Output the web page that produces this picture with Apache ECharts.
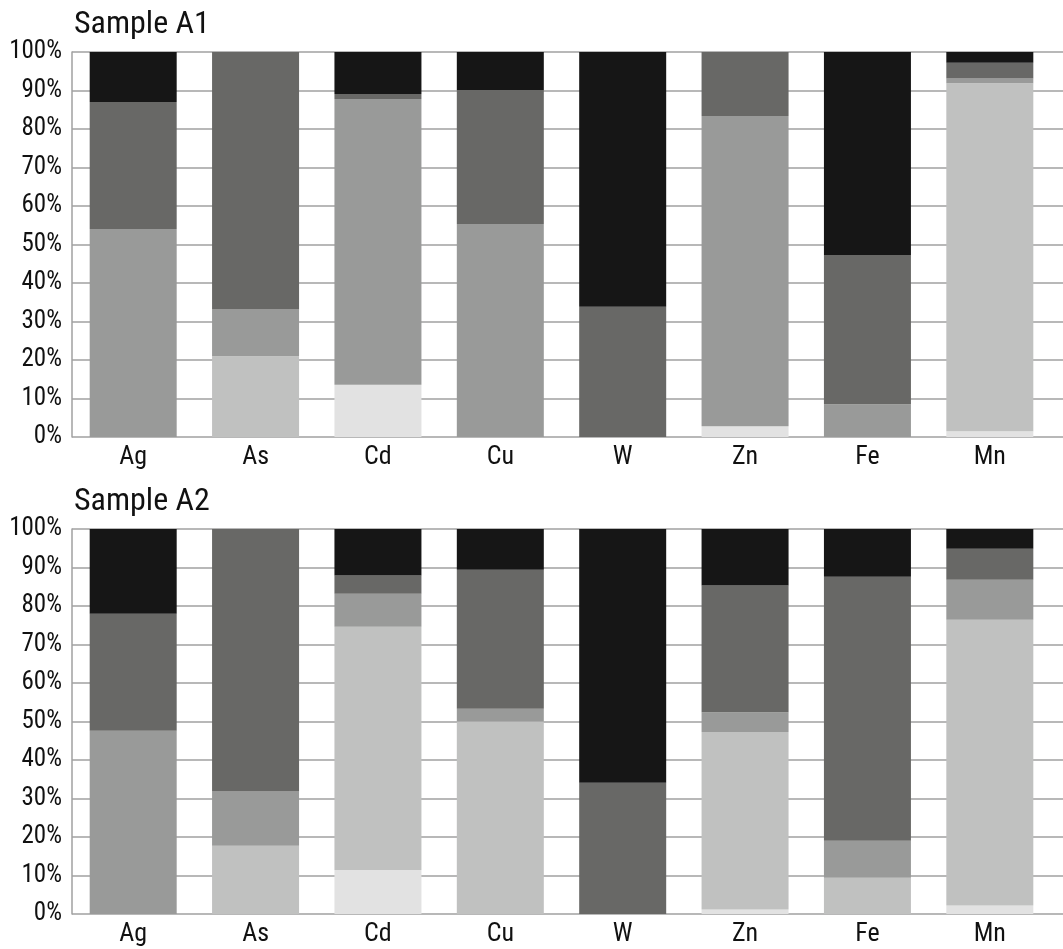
<!DOCTYPE html>
<html>
<head>
<meta charset="utf-8">
<script src="https://cdn.jsdelivr.net/npm/echarts@6/dist/echarts.min.js"></script>
<style>html,body{margin:0;padding:0;background:#fff}#c{width:1063px;height:949px}</style>
</head>
<body>
<div id="c"></div>
<script>
const categories = ['Ag', 'As', 'Cd', 'Cu', 'W', 'Zn', 'Fe', 'Mn'];
const panelTitles = ['Sample A1', 'Sample A2'];
const yTickMin = 0, yTickMax = 100, yTickStep = 10;

// Sample A1 segments (bottom to top), percent of bar
const a1Lightest = [0, 0, 13.6, 0, 0, 2.8, 0, 1.5];
const a1Light    = [0, 21.0, 0, 0, 0, 0, 0, 90.4];
const a1Mid      = [54.0, 12.1, 74.2, 55.3, 0, 80.6, 8.5, 1.2];
const a1Dark     = [33.0, 66.9, 1.3, 34.8, 33.8, 16.6, 38.8, 4.1];
const a1Black    = [13.0, 0, 10.9, 9.9, 66.2, 0, 52.7, 2.8];

// Sample A2 segments (bottom to top)
const a2Lightest = [0, 0, 11.4, 0, 0, 1.2, 0, 2.2];
const a2Light    = [0, 17.7, 63.2, 50.0, 0, 46.1, 9.4, 74.2];
const a2Mid      = [47.6, 14.1, 8.6, 3.3, 0, 5.1, 9.6, 10.4];
const a2Dark     = [30.4, 68.2, 4.7, 36.1, 34.1, 32.9, 68.6, 8.1];
const a2Black    = [22.0, 0, 12.1, 10.6, 65.9, 14.7, 12.4, 5.1];

const segColors = ['#e2e2e2', '#c0c1c0', '#999a99', '#686866', '#161616'];
const panels = [
  [a1Lightest, a1Light, a1Mid, a1Dark, a1Black],
  [a2Lightest, a2Light, a2Mid, a2Dark, a2Black]
];

const FONT = "'Roboto Condensed', 'DejaVu Sans Condensed', sans-serif";
const panelTop = [52, 529];
const plotH = 385;

const grid = [], xAxis = [], yAxis = [], series = [], title = [];
panelTop.forEach((top, p) => {
  const bottom = 949 - top - plotH;
  // lines grid (full width)
  grid.push({ left: 72, right: 0, top: top, bottom: bottom, containLabel: false, outerBoundsMode: 'none' });
  // bars grid
  grid.push({ left: 72, right: 12, top: top, bottom: bottom, containLabel: false, outerBoundsMode: 'none' });
  xAxis.push({ gridIndex: 2 * p, type: 'value', min: 0, max: 1, show: false });
  xAxis.push({
    gridIndex: 2 * p + 1, type: 'category', data: categories,
    axisLine: { show: false }, axisTick: { show: false },
    axisLabel: { color: '#111', fontFamily: FONT, fontSize: 26, margin: 7 }
  });
  yAxis.push({
    gridIndex: 2 * p, type: 'value', min: yTickMin, max: yTickMax, interval: yTickStep,
    axisLine: { show: true, lineStyle: { color: '#a0a0a0', width: 1.5 } },
    axisTick: { show: false },
    splitLine: { show: true, lineStyle: { color: '#a0a0a0', width: 1.5 } },
    axisLabel: { formatter: '{value}%', color: '#111', fontFamily: FONT, fontSize: 25, margin: 10 }
  });
  yAxis.push({ gridIndex: 2 * p + 1, type: 'value', min: yTickMin, max: yTickMax, show: false });
  title.push({
    text: panelTitles[p], left: 74, top: top - 43, padding: 0,
    textStyle: { fontFamily: FONT, fontSize: 32, fontWeight: 'normal', color: '#111' }
  });
  panels[p].forEach((arr, i) => {
    series.push({
      type: 'bar', stack: 'panel' + p, xAxisIndex: 2 * p + 1, yAxisIndex: 2 * p + 1,
      data: arr, barWidth: 87, itemStyle: { color: segColors[i] },
      silent: true, animation: false
    });
  });
});

const chart = echarts.init(document.getElementById('c'), null, { renderer: 'canvas' });
chart.setOption({ animation: false, title, grid, xAxis, yAxis, series });
</script>
</body>
</html>
